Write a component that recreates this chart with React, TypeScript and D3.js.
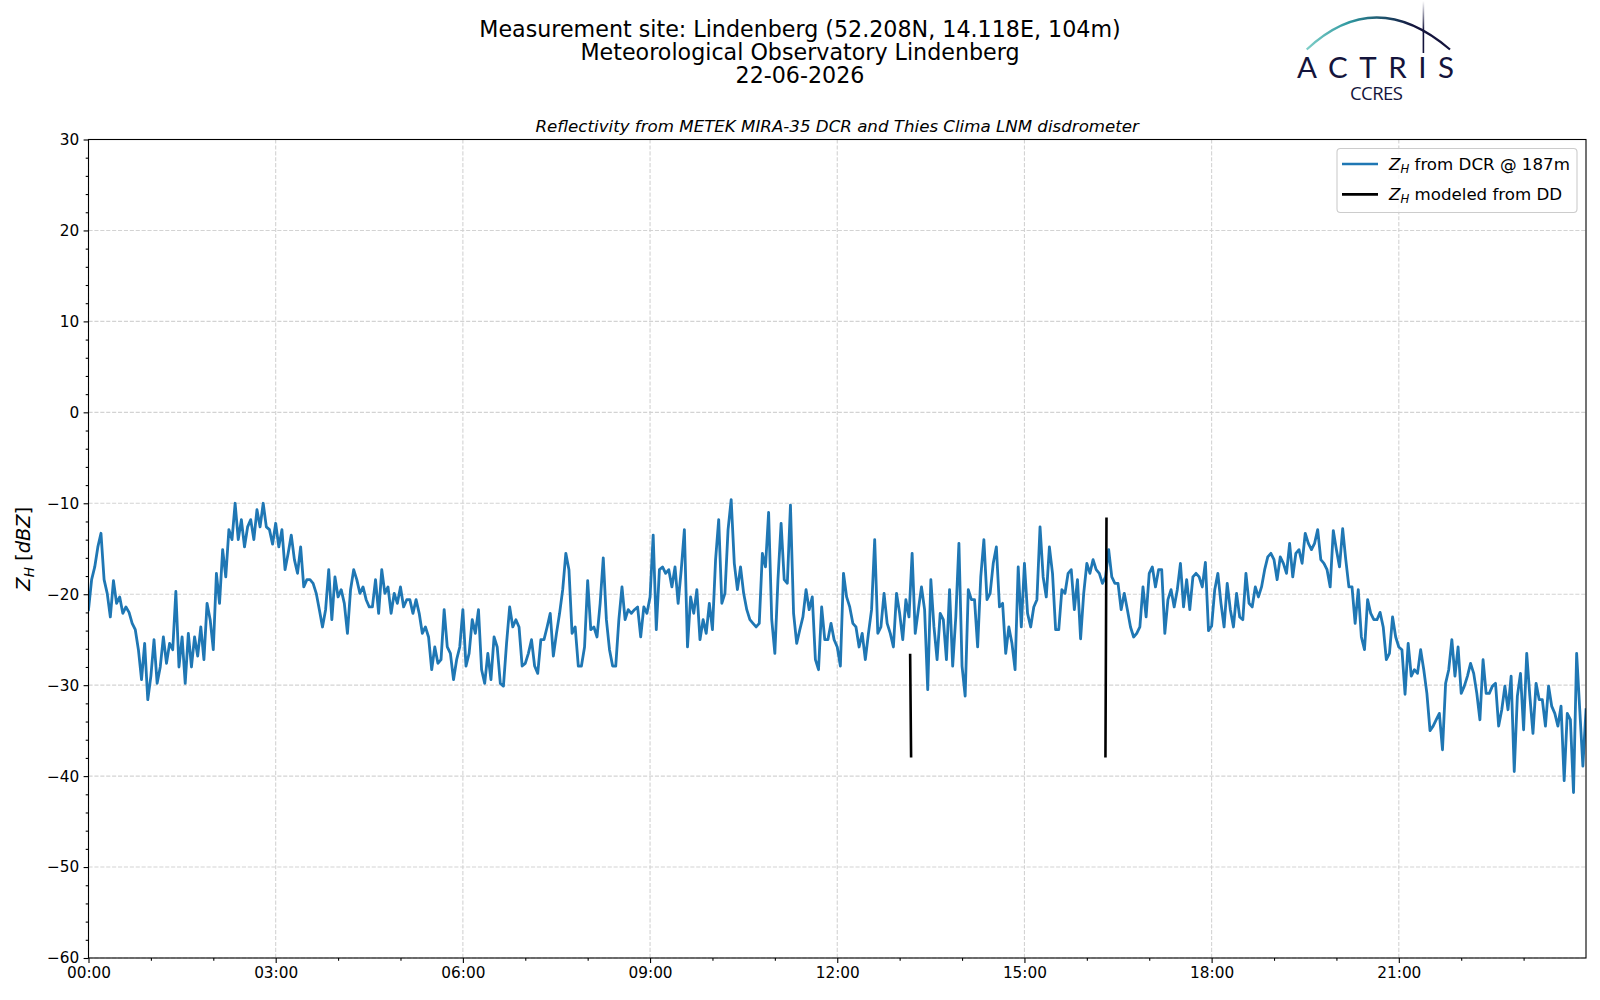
import React, { useEffect, useRef } from 'react';
import * as d3 from 'd3';

// Reflectivity from the DCR, one value every 3 minutes starting 00:00 UTC
const DAY_START = Date.UTC(2026, 5, 22, 0, 0);
const STEP_MINUTES = 3;
const dcrZh = [
  -21.7, -18.4, -17.0, -14.8, -13.3, -18.4, -19.9, -22.5, -18.5, -21.0,
  -20.3, -22.1, -21.4, -22.0, -23.2, -23.9, -26.1, -29.4, -25.4, -31.6,
  -29.0, -25.0, -29.8, -28.0, -24.7, -27.6, -25.4, -26.1, -19.7, -28.0,
  -24.7, -29.8, -24.3, -28.0, -24.7, -26.8, -23.6, -27.2, -21.0, -22.8,
  -26.1, -17.7, -21.0, -15.1, -18.1, -12.9, -14.0, -10.0, -14.0, -11.8,
  -14.8, -12.6, -11.8, -14.0, -10.7, -12.6, -10.0, -12.6, -12.9, -14.5,
  -12.2, -14.8, -12.9, -17.3, -15.5, -13.5, -16.2, -17.7, -14.8, -19.2,
  -18.4, -18.4, -18.8, -19.9, -21.7, -23.6, -21.7, -17.3, -22.8, -18.1,
  -20.3, -19.5, -21.0, -24.3, -19.5, -17.3, -18.4, -19.9, -19.2, -20.6,
  -21.4, -21.4, -18.4, -22.1, -17.3, -19.9, -19.2, -22.1, -19.9, -21.0,
  -19.2, -21.4, -20.6, -20.6, -22.1, -20.6, -22.1, -24.3, -23.6, -24.7,
  -28.3, -25.8, -27.6, -27.2, -21.7, -25.8, -26.5, -29.4, -27.2, -25.8,
  -21.7, -27.9, -26.5, -22.8, -24.3, -21.7, -28.3, -29.8, -26.5, -29.4,
  -24.7, -25.8, -29.8, -30.1, -25.4, -21.4, -23.6, -22.8, -23.6, -27.9,
  -27.6, -26.5, -25.0, -27.9, -28.7, -25.0, -25.0, -23.6, -22.1, -26.8,
  -24.3, -22.1, -19.5, -15.5, -17.3, -24.3, -23.6, -27.9, -27.9, -25.8,
  -18.5, -23.9, -23.6, -24.7, -21.0, -16.0, -22.8, -26.1, -27.9, -27.9,
  -22.8, -19.2, -22.8, -21.7, -22.1, -21.7, -21.4, -24.7, -21.4, -22.1,
  -20.3, -13.5, -23.9, -17.3, -17.0, -17.7, -17.3, -19.2, -17.0, -21.0,
  -17.3, -12.9, -25.8, -20.3, -22.1, -19.5, -25.0, -22.8, -24.3, -21.0,
  -23.9, -16.2, -11.8, -21.0, -19.9, -12.9, -9.6, -16.6, -19.5, -17.0,
  -19.9, -21.7, -22.8, -23.2, -23.6, -23.2, -15.5, -17.0, -11.0, -22.8,
  -26.5, -18.4, -12.2, -18.4, -18.8, -10.2, -22.1, -25.4, -23.9, -22.5,
  -19.5, -21.7, -20.3, -27.2, -28.3, -21.4, -25.0, -25.0, -23.2, -25.0,
  -25.8, -27.9, -17.7, -20.3, -21.4, -23.2, -23.6, -25.8, -24.3, -27.2,
  -24.3, -21.7, -14.0, -24.3, -23.6, -19.9, -23.2, -24.3, -25.8, -19.9,
  -22.1, -25.0, -20.6, -22.5, -15.5, -24.3, -21.7, -19.2, -21.7, -30.5,
  -18.4, -23.6, -27.2, -22.1, -22.8, -27.2, -19.5, -27.9, -22.5, -14.4,
  -27.9, -31.2, -19.5, -20.6, -20.6, -25.8, -18.1, -14.0, -20.6, -19.9,
  -16.6, -14.8, -21.4, -21.0, -26.5, -23.6, -25.4, -28.3, -17.0, -23.6,
  -16.6, -22.1, -23.6, -21.4, -20.6, -12.6, -18.1, -20.3, -14.8, -17.7,
  -23.9, -23.9, -19.5, -19.9, -17.7, -17.3, -21.7, -18.4, -24.9, -19.9,
  -16.6, -17.7, -16.2, -17.3, -17.7, -18.8, -18.1, -15.1, -18.1, -18.8,
  -18.8, -21.7, -19.9, -21.7, -23.6, -24.7, -24.3, -23.6, -19.2, -22.5,
  -17.7, -17.0, -19.2, -17.3, -17.3, -24.3, -20.6, -19.5, -21.4, -19.5,
  -16.6, -21.4, -18.4, -21.7, -18.1, -17.7, -18.1, -19.2, -16.5, -24.0,
  -23.5, -19.5, -17.7, -21.0, -23.6, -18.8, -21.7, -23.6, -19.9, -22.5,
  -22.8, -17.7, -21.0, -21.4, -19.2, -20.3, -19.2, -17.3, -15.9, -15.5,
  -16.2, -18.4, -15.9, -16.6, -17.7, -14.4, -18.1, -15.5, -15.1, -16.6,
  -13.3, -14.4, -15.1, -14.4, -12.9, -16.2, -16.6, -17.3, -19.2, -13.0,
  -15.1, -17.0, -12.8, -16.2, -19.2, -19.2, -23.2, -19.5, -24.7, -26.1,
  -20.6, -22.1, -22.8, -22.8, -22.0, -23.6, -27.2, -26.5, -22.5, -24.7,
  -25.8, -26.1, -31.0, -25.4, -29.0, -28.3, -28.7, -26.1, -28.3, -30.9,
  -35.0, -34.5, -33.8, -33.1, -37.1, -29.8, -28.3, -25.0, -29.0, -25.8,
  -30.9, -30.1, -29.0, -27.6, -28.7, -30.9, -33.8, -27.2, -30.9, -30.9,
  -30.1, -29.8, -34.5, -32.7, -30.1, -32.7, -29.0, -39.5, -31.2, -28.7,
  -34.9, -26.5, -31.2, -35.3, -29.8, -31.6, -31.6, -34.5, -30.1, -32.3,
  -33.1, -34.5, -32.3, -40.5, -33.1, -33.8, -41.8, -26.5, -32.7, -38.9,
  -32.7,
];

// Reflectivity modeled from the disdrometer: only two short valid pieces (null = gap)
const ddMinutes = [790.1, 791.0, 884.0, 977.9, 978.9];
const ddZh = [-26.7, -37.8, null, -37.8, -11.7];

const yTicks = [-60, -50, -40, -30, -20, -10, 0, 10, 20, 30];
const xTickHours = [0, 3, 6, 9, 12, 15, 18, 21];
const xMinorHours = [1, 2, 4, 5, 7, 8, 10, 11, 13, 14, 16, 17, 19, 20, 22, 23];

const titleLines = [
  'Measurement site: Lindenberg (52.208N, 14.118E, 104m)',
  'Meteorological Observatory Lindenberg',
  '22-06-2026',
];
const subtitle = 'Reflectivity from METEK MIRA-35 DCR and Thies Clima LNM disdrometer';

const W = 1600;
const H = 1000;
const M = { left: 88.5, right: 1586, top: 139.5, bottom: 958 };
const FONT = '"DejaVu Sans", sans-serif';
const NAVY = '#14143c';

export default function App() {
  const svgRef = useRef<SVGSVGElement>(null);

  useEffect(() => {
    document.body.style.margin = '0';
    if (!svgRef.current) return;
    const svg = d3.select(svgRef.current);
    svg.selectAll('*').remove();

    const hour = (h: number) => new Date(DAY_START + h * 3600000);
    const x = d3.scaleUtc().domain([hour(0), hour(24)]).range([M.left, M.right]);
    const y = d3.scaleLinear().domain([-60, 30]).range([M.bottom, M.top]);

    const defs = svg.append('defs');
    defs.append('clipPath').attr('id', 'plot-clip')
      .append('rect')
      .attr('x', M.left).attr('y', M.top)
      .attr('width', M.right - M.left).attr('height', M.bottom - M.top);

    // grid
    const grid = svg.append('g').attr('stroke', '#d3d3d3').attr('stroke-width', 1.1)
      .attr('stroke-dasharray', '4.1,1.8');
    grid.selectAll('.gx').data(xTickHours).enter().append('line')
      .attr('x1', (d) => x(hour(d))).attr('x2', (d) => x(hour(d)))
      .attr('y1', M.top).attr('y2', M.bottom);
    grid.selectAll('.gy').data(yTicks).enter().append('line')
      .attr('x1', M.left).attr('x2', M.right)
      .attr('y1', (d) => y(d)).attr('y2', (d) => y(d));

    // data
    const plot = svg.append('g').attr('clip-path', 'url(#plot-clip)');
    const dcrLine = d3.line<number>()
      .x((d, i) => x(new Date(DAY_START + i * STEP_MINUTES * 60000)))
      .y((d) => y(d));
    plot.append('path').datum(dcrZh)
      .attr('d', dcrLine)
      .attr('fill', 'none').attr('stroke', '#1f77b4')
      .attr('stroke-width', 2.8).attr('stroke-linejoin', 'round').attr('stroke-linecap', 'square');

    const ddLine = d3.line<number>()
      .defined((d, i) => ddZh[i] !== null)
      .x((d) => x(new Date(DAY_START + ddMinutes[d] * 60000)))
      .y((d) => y(ddZh[d] as number));
    plot.append('path').datum(d3.range(ddMinutes.length))
      .attr('d', ddLine)
      .attr('fill', 'none').attr('stroke', '#000')
      .attr('stroke-width', 2.6).attr('stroke-linecap', 'square');

    // axes
    const xAxis = svg.append('g').attr('transform', `translate(0,${M.bottom})`)
      .call(d3.axisBottom(x).tickValues(xTickHours.map(hour))
        .tickFormat((d) => d3.utcFormat('%H:%M')(d as Date))
        .tickSize(4.9).tickPadding(4.4));
    svg.append('g').attr('transform', `translate(0,${M.bottom})`)
      .call(d3.axisBottom(x).tickValues(xMinorHours.map(hour)).tickFormat(() => '').tickSize(2.8))
      .call((g) => g.select('.domain').remove());
    const yAxis = svg.append('g').attr('transform', `translate(${M.left},0)`)
      .call(d3.axisLeft(y).tickValues(yTicks).tickSize(4.9).tickPadding(4.4));
    svg.append('g').attr('transform', `translate(${M.left},0)`)
      .call(d3.axisLeft(y).tickValues(d3.range(-60, 31, 2).filter((v) => v % 10 !== 0))
        .tickFormat(() => '').tickSize(2.8))
      .call((g) => g.select('.domain').remove());
    [xAxis, yAxis].forEach((a) => {
      a.select('.domain').remove();
      a.selectAll('text').attr('font-family', FONT).attr('font-size', 15.3).attr('fill', '#000');
    });
    svg.selectAll('.tick line').attr('stroke', '#000').attr('stroke-width', 1.1);

    // frame
    svg.append('rect')
      .attr('x', M.left).attr('y', M.top)
      .attr('width', M.right - M.left).attr('height', M.bottom - M.top)
      .attr('fill', 'none').attr('stroke', '#000').attr('stroke-width', 1.1);

    // y label
    const yl = svg.append('text')
      .attr('transform', `translate(30,${(M.top + M.bottom) / 2}) rotate(-90)`)
      .attr('text-anchor', 'middle').attr('font-family', FONT).attr('font-size', 19.4);
    yl.append('tspan').attr('font-style', 'italic').text('Z');
    yl.append('tspan').attr('font-style', 'italic').attr('font-size', 13.6).attr('dy', 4).text('H');
    yl.append('tspan').attr('dy', -4).text(' [');
    yl.append('tspan').attr('font-style', 'italic').text('dBZ');
    yl.append('tspan').text(']');

    // titles
    const title = svg.append('text').attr('text-anchor', 'middle')
      .attr('font-family', FONT).attr('font-size', 22.2).attr('fill', '#000');
    titleLines.forEach((t, i) => {
      title.append('tspan').attr('x', 800).attr('y', 36.5 + i * 23.1).text(t);
    });
    svg.append('text')
      .attr('x', (M.left + M.right) / 2).attr('y', 131.5)
      .attr('text-anchor', 'middle').attr('font-family', FONT)
      .attr('font-size', 16.67).attr('font-style', 'italic').text(subtitle);

    // legend
    const lg = svg.append('g');
    lg.append('rect')
      .attr('x', 1337).attr('y', 148.5).attr('width', 240).attr('height', 64).attr('rx', 3.5)
      .attr('fill', '#fff').attr('fill-opacity', 0.8).attr('stroke', '#cccccc').attr('stroke-width', 1.1);
    const entries = [
      { color: '#1f77b4', label: ' from DCR @ 187m' },
      { color: '#000', label: ' modeled from DD' },
    ];
    entries.forEach((e, i) => {
      const cy = 164 + i * 30.3;
      lg.append('line').attr('x1', 1342).attr('x2', 1378).attr('y1', cy).attr('y2', cy)
        .attr('stroke', e.color).attr('stroke-width', 2.7);
      const t = lg.append('text').attr('x', 1389).attr('y', cy + 5.5)
        .attr('font-family', FONT).attr('font-size', 16.67);
      t.append('tspan').attr('font-style', 'italic').text('Z');
      t.append('tspan').attr('font-style', 'italic').attr('font-size', 11.7).attr('dy', 3.5).text('H');
      t.append('tspan').attr('dy', -3.5).text(e.label);
    });

    // ACTRIS logo
    const grad = defs.append('linearGradient').attr('id', 'arc-grad')
      .attr('gradientUnits', 'userSpaceOnUse')
      .attr('x1', 1306).attr('y1', 0).attr('x2', 1450).attr('y2', 0);
    grad.append('stop').attr('offset', '0').attr('stop-color', '#7fcfc8');
    grad.append('stop').attr('offset', '0.3').attr('stop-color', '#2f98a0');
    grad.append('stop').attr('offset', '0.6').attr('stop-color', '#1a3f5e');
    grad.append('stop').attr('offset', '0.75').attr('stop-color', NAVY);
    grad.append('stop').attr('offset', '1').attr('stop-color', NAVY);
    const vgrad = defs.append('linearGradient').attr('id', 'mast-grad')
      .attr('gradientUnits', 'userSpaceOnUse')
      .attr('x1', 0).attr('y1', 1).attr('x2', 0).attr('y2', 30);
    vgrad.append('stop').attr('offset', '0').attr('stop-color', NAVY).attr('stop-opacity', 0);
    vgrad.append('stop').attr('offset', '1').attr('stop-color', NAVY).attr('stop-opacity', 1);

    const logo = svg.append('g');
    logo.append('path')
      .attr('d', 'M1306.7,49.5 Q1375,-14.5 1450,49.5')
      .attr('fill', 'none').attr('stroke', 'url(#arc-grad)').attr('stroke-width', 2.2);
    logo.append('line')
      .attr('x1', 1423.4).attr('x2', 1423.4).attr('y1', 1).attr('y2', 53)
      .attr('stroke', 'url(#mast-grad)').attr('stroke-width', 1.6);
    logo.append('text')
      .attr('x', 1297).attr('y', 78.3)
      .attr('textLength', 157).attr('lengthAdjust', 'spacing')
      .attr('font-family', 'Lato, "Open Sans", sans-serif').attr('font-size', 29.5)
      .attr('fill', NAVY).text('ACTRIS');
    logo.append('text')
      .attr('x', 1350).attr('y', 100)
      .attr('textLength', 53).attr('lengthAdjust', 'spacing')
      .attr('font-family', '"Open Sans", Lato, sans-serif').attr('font-size', 18.5)
      .attr('fill', NAVY).text('CCRES');
  }, []);

  return <svg ref={svgRef} width={W} height={H} style={{ display: 'block', background: '#fff' }} />;
}
